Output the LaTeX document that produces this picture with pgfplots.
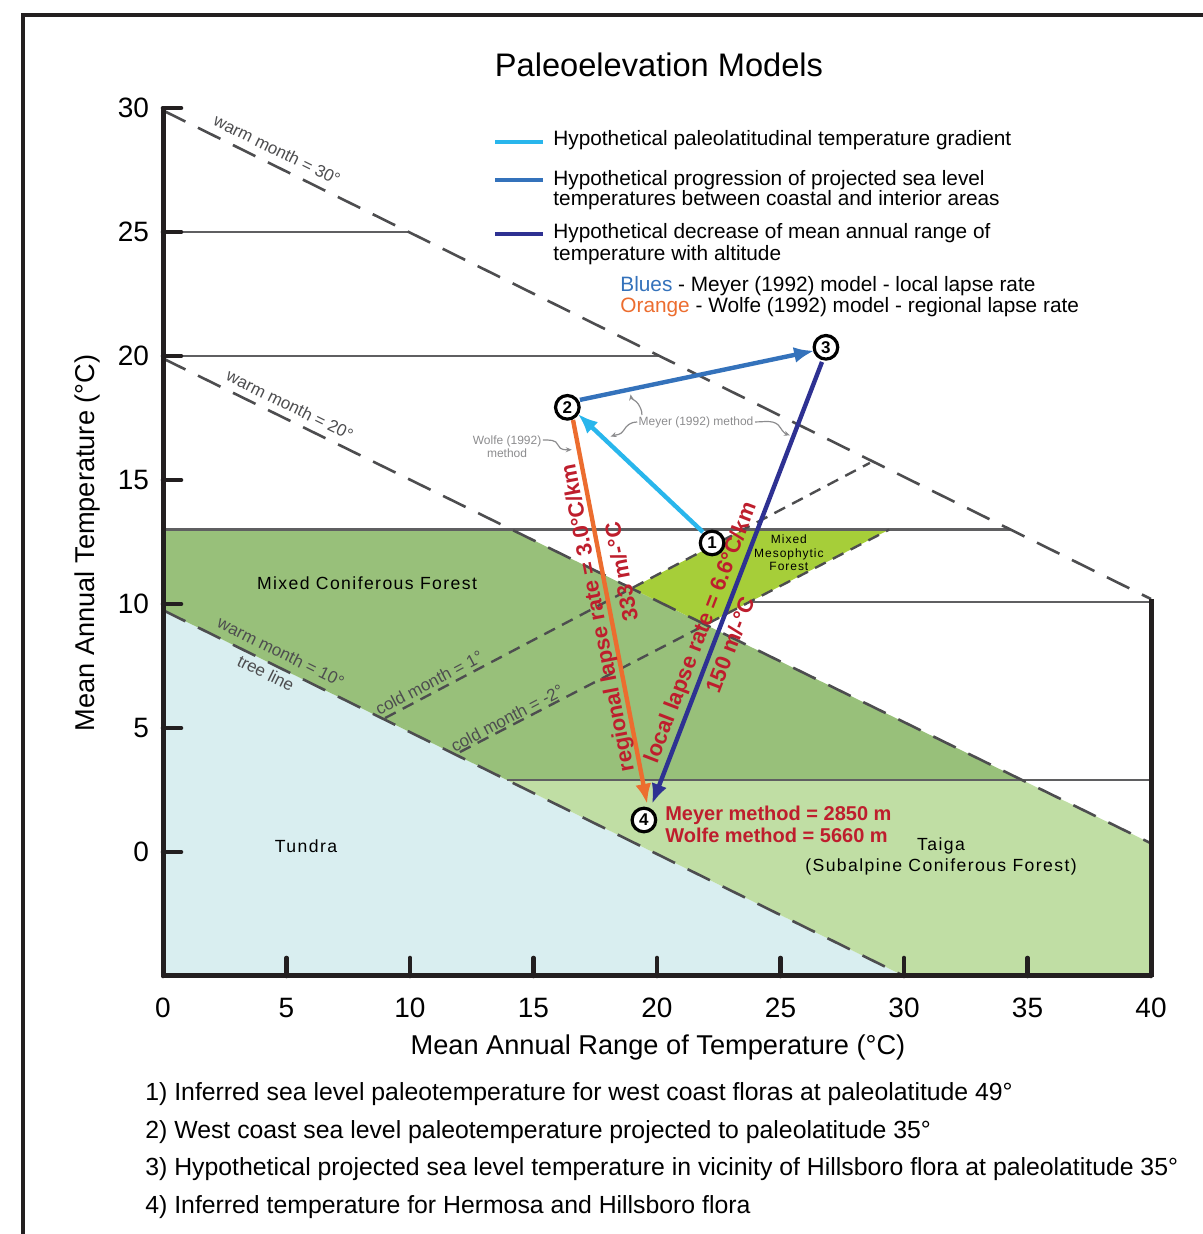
\documentclass[border=0pt]{standalone}
\usepackage{fontspec}
\setmainfont{Liberation Sans}
\newfontfamily\spaced[LetterSpace=8]{Liberation Sans}
\usepackage{pgfplots}
\pgfplotsset{compat=1.18}
\usetikzlibrary{arrows.meta}
\definecolor{axblack}{RGB}{35,31,32}
\definecolor{tundra}{RGB}{217,238,240}
\definecolor{conif}{RGB}{152,192,122}
\definecolor{taiga}{RGB}{192,222,164}
\definecolor{meso}{RGB}{166,206,57}
\definecolor{cyanA}{RGB}{41,182,236}
\definecolor{blueA}{RGB}{52,114,187}
\definecolor{navyA}{RGB}{46,49,146}
\definecolor{orangeA}{RGB}{236,109,47}
\definecolor{redT}{RGB}{190,30,45}
\definecolor{dgray}{RGB}{77,77,79}
\definecolor{lgray}{RGB}{140,140,142}
\definecolor{hgray}{RGB}{95,95,97}
\newcommand{\fs}[1]{\fontsize{#1}{#1}\selectfont}
\begin{document}
\begin{tikzpicture}
\path[use as bounding box] (-81.5pt,-129pt) rectangle (519.5pt,488pt);
\draw[line width=2pt, axblack, line join=miter] (-70.1pt,-140pt) -- (-70.1pt,480.7pt) -- (530pt,480.7pt);
\begin{axis}[
  scale only axis, width=494pt, height=434pt,
  xmin=0, xmax=40, ymin=-5, ymax=30,
  axis x line*=bottom, axis y line*=left,
  axis line style={line width=2.5pt, axblack},
  xtick={0,5,...,40}, ytick={0,5,...,30},
  xtick align=inside, ytick align=inside,
  major tick length=9pt,
  tick style={line width=2.3pt, axblack, line cap=round},
  ticklabel style={font=\fs{14}},
  /pgf/number format/assume math mode=true,
  xticklabel style={yshift=-7.5pt},
  yticklabel style={xshift=-3.5pt},
  clip=false, axis on top,
  warm/.style={dgray, line width=1.3pt, dash pattern=on 12.5pt off 7pt},
  cold/.style={dgray, line width=1.2pt, dash pattern=on 6pt off 4pt},
  hline/.style={hgray, line width=1.1pt},
  arr/.style={line width=2.2pt, -{Latex[length=10pt,width=8pt]}},
]
% regions
\addplot[fill=tundra, draw=none] coordinates {(0,9.75) (30,-5) (0,-5)} -- cycle;
\addplot[fill=conif, draw=none] coordinates {(0,13) (14.12,13) (34.78,2.9) (13.93,2.9) (0,9.75)} -- cycle;
\addplot[fill=taiga, draw=none] coordinates {(13.93,2.9) (34.78,2.9) (40,0.35) (40,-5) (30,-5)} -- cycle;
\addplot[fill=meso, draw=none] coordinates {(18.97,10.63) (23.49,13) (29.4,13) (21.97,9.16)} -- cycle;
% horizontal lines
\addplot[hline] coordinates {(0,25) (9.95,25)};
\addplot[hline] coordinates {(0,20) (20.1,20)};
\addplot[hline] coordinates {(0,13) (34.31,13)};
\addplot[hline] coordinates {(23.76,10.08) (40,10.08)};
\addplot[hline] coordinates {(13.93,2.9) (40,2.9)};
% dashed isolines
\addplot[warm] coordinates {(0,29.9) (40,10.2)};
\addplot[warm] coordinates {(0,19.9) (40,0.35)};
\addplot[warm] coordinates {(0,9.75) (30,-5)};
\addplot[cold] coordinates {(8.99,5.40) (28.62,15.69)};
\addplot[cold] coordinates {(12.02,4.03) (29.4,13)};
% right axis segment
\addplot[axblack, line width=2.5pt] coordinates {(40,-5.05) (40,10.2)};
% arrows
\addplot[cyanA, arr] coordinates {(21.86,12.90) (16.80,17.66)};
\addplot[blueA, arr] coordinates {(16.88,18.23) (26.36,20.21)};
\addplot[navyA, arr] coordinates {(26.68,19.76) (19.80,1.94)};
\addplot[orangeA, arr] coordinates {(16.60,17.42) (19.60,1.94)};
% numbered points
\addplot[only marks, mark=*, mark size=5.9pt,
  mark options={fill=white, draw=black, line width=1.6pt},
  nodes near coords, point meta=explicit symbolic,
  nodes near coords style={anchor=center, font=\bfseries\fs{8.5}, text=black}]
  table[row sep=\\, meta=l] {x y l\\ 22.23 12.46 1\\ 16.37 17.93 2\\ 26.84 20.35 3\\ 19.47 1.29 4\\};
% lapse rate labels
\node[rotate=100.9, text=redT, font=\bfseries\fs{11}] at (axis cs:17.65,9.44) {regional lapse rate = 3.0°C/km};
\node[rotate=100.9, text=redT, font=\bfseries\fs{11}] at (axis cs:18.55,11.29) {333 m/-°C};
\node[rotate=69, text=redT, font=\bfseries\fs{11}] at (axis cs:21.80,8.83) {local lapse rate = 6.6°C/km};
\node[rotate=69, text=redT, font=\bfseries\fs{11}] at (axis cs:22.95,8.35) {150 m/-°C};
\node[anchor=west, text=redT, font=\bfseries\fs{10}, inner sep=0pt] at (axis cs:20.32,1.49) {Meyer method = 2850 m};
\node[anchor=west, text=redT, font=\bfseries\fs{10}, inner sep=0pt] at (axis cs:20.32,0.69) {Wolfe method = 5660 m};
% region labels
\node[font=\spaced\fs{8.8}] at (axis cs:8.26,10.85) {Mixed Coniferous Forest};
\node[font=\spaced\fs{8.8}] at (axis cs:5.79,0.24) {Tundra};
\node[font=\spaced\fs{8.8}] at (axis cs:31.5,0.24) {Taiga};
\node[font=\spaced\fs{8.8}] at (axis cs:31.5,-0.61) {(Subalpine Coniferous Forest)};
\node[align=center, font=\spaced\fontsize{6}{6.75}\selectfont] at (axis cs:25.34,12.06) {Mixed\\Mesophytic\\Forest};
% isoline labels
\node[rotate=-26.2, text=dgray, font=\fs{8.5}] at (axis cs:4.62,28.31) {warm month = 30°};
\node[rotate=-26.2, text=dgray, font=\fs{8.5}] at (axis cs:5.14,18.02) {warm month = 20°};
\node[rotate=-26.2, text=dgray, font=\fs{8.5}] at (axis cs:4.78,8.06) {warm month = 10°};
\node[rotate=-26.2, text=dgray, font=\fs{8.5}] at (axis cs:4.17,7.22) {tree line};
\node[rotate=27.7, text=dgray, font=\fs{8.5}] at (axis cs:10.77,6.82) {cold month = 1°};
\node[rotate=27.7, text=dgray, font=\fs{8.5}] at (axis cs:13.93,5.40) {cold month = -2°};
% method annotations
\node[text=lgray, font=\fs{6}] at (axis cs:21.58,17.34) {Meyer (1992) method};
\node[text=lgray, align=center, font=\fontsize{6}{6.5}\selectfont] at (axis cs:13.93,16.35) {Wolfe (1992)\\method};
\draw[lgray, line width=0.6pt, -{Stealth[length=3pt,width=2.5pt]}] (axis cs:19.39,17.62) to[out=90,in=-60] (axis cs:19.25,18.05) to[out=120,in=-80] (axis cs:18.93,18.45);
\draw[lgray, line width=0.6pt, -{Stealth[length=3pt,width=2.5pt]}] (axis cs:19.20,17.34) to[out=180,in=60] (axis cs:18.65,17.0) to[out=-120,in=20] (axis cs:18.12,16.75);
\draw[lgray, line width=0.6pt, -{Stealth[length=3pt,width=2.5pt]}] (axis cs:23.97,17.34) to[out=0,in=120] (axis cs:25.0,17.1) to[out=-60,in=160] (axis cs:25.38,16.8);
\draw[lgray, line width=0.6pt, -{Stealth[length=3pt,width=2.5pt]}] (axis cs:15.38,16.61) to[out=0,in=110] (axis cs:16.0,16.4) to[out=-70,in=180] (axis cs:16.55,16.22);
\end{axis}
% title and axis labels
\node[font=\fs{16.3}] at (248pt,455.5pt) {Paleoelevation Models};
\node[font=\fs{13.6}] at (247.5pt,-35.5pt) {Mean Annual Range of Temperature (°C)};
\node[font=\fs{13.6}, rotate=90] at (-38pt,216.5pt) {Mean Annual Temperature (°C)};
% legend
\draw[cyanA, line width=2pt] (166pt,417.2pt) -- (190pt,417.2pt);
\draw[blueA, line width=2pt] (166pt,398pt) -- (190pt,398pt);
\draw[navyA, line width=2pt] (166pt,371pt) -- (190pt,371pt);
\node[anchor=west, inner sep=0pt, font=\fs{10.4}] at (195pt,418pt) {Hypothetical paleolatitudinal temperature gradient};
\node[anchor=west, inner sep=0pt, font=\fs{10.4}] at (195pt,398pt) {Hypothetical progression of projected sea level};
\node[anchor=west, inner sep=0pt, font=\fs{10.4}] at (195pt,388pt) {temperatures between coastal and interior areas};
\node[anchor=west, inner sep=0pt, font=\fs{10.4}] at (195pt,371.5pt) {Hypothetical decrease of mean annual range of};
\node[anchor=west, inner sep=0pt, font=\fs{10.4}] at (195pt,360.5pt) {temperature with altitude};
\node[anchor=west, inner sep=0pt, font=\fs{10.4}] at (228.5pt,345pt) {\textcolor{blueA}{Blues} - Meyer (1992) model - local lapse rate};
\node[anchor=west, inner sep=0pt, font=\fs{10.4}] at (228.5pt,334.5pt) {\textcolor{orangeA}{Orange} - Wolfe (1992) model - regional lapse rate};
% notes
\node[anchor=west, inner sep=0pt, font=\fs{12.4}] at (-9pt,-59pt) {1) Inferred sea level paleotemperature for west coast floras at paleolatitude 49°};
\node[anchor=west, inner sep=0pt, font=\fs{12.4}] at (-9pt,-78pt) {2) West coast sea level paleotemperature projected to paleolatitude 35°};
\node[anchor=west, inner sep=0pt, font=\fs{12.4}] at (-9pt,-96.5pt) {3) Hypothetical projected sea level temperature in vicinity of Hillsboro flora at paleolatitude 35°};
\node[anchor=west, inner sep=0pt, font=\fs{12.4}] at (-9pt,-115.5pt) {4) Inferred temperature for Hermosa and Hillsboro flora};
\end{tikzpicture}
\end{document}
